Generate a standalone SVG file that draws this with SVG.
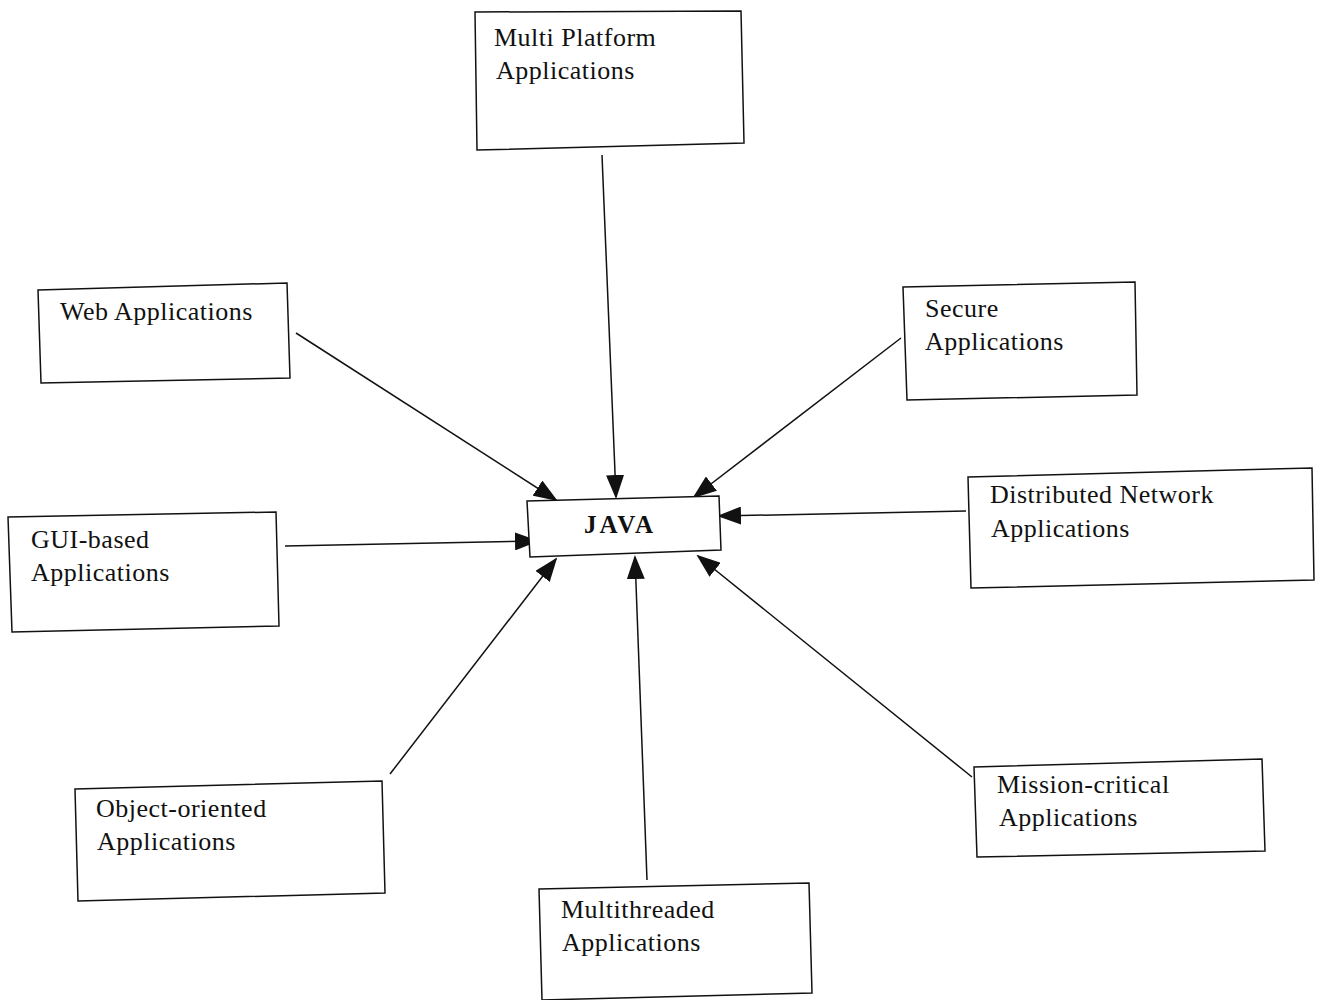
<svg xmlns="http://www.w3.org/2000/svg" width="1322" height="1000" viewBox="0 0 1322 1000">
<defs>
<style>
.box{fill:#fff;stroke:#111;stroke-width:1.5}
.lbl{font-family:"Liberation Serif","Times New Roman",serif;font-size:26px;letter-spacing:0.5px;fill:#111}
.java{font-family:"Liberation Serif","Times New Roman",serif;font-size:25px;font-weight:bold;letter-spacing:3px;fill:#111}
.con line{stroke:#111;stroke-width:1.5;marker-end:url(#ah)}
</style>
<marker id="ah" markerUnits="userSpaceOnUse" markerWidth="24" markerHeight="18" viewBox="0 0 24 18" refX="22" refY="9" orient="auto">
<path d="M0,0 L24,9 L0,18 Z" fill="#111"/>
</marker>
</defs>
<rect width="1322" height="1000" fill="#fff"/>
<g id="connectors" class="con">
<line x1="602" y1="155" x2="616" y2="497"/>
<line x1="296" y1="333" x2="556" y2="500"/>
<line x1="901" y1="338" x2="694" y2="497"/>
<line x1="966" y1="511" x2="719" y2="516"/>
<line x1="285" y1="546" x2="537" y2="541"/>
<line x1="390" y1="774" x2="556" y2="559"/>
<line x1="647" y1="880" x2="635" y2="557"/>
<line x1="972" y1="777" x2="698" y2="556"/>
</g>
<g id="java">
<polygon class="box" points="527,501 719,496 721,550 530,557"/>
<text class="java" x="620" y="533" text-anchor="middle">JAVA</text>
</g>
<g id="multi-platform">
<polygon class="box" points="475,12 741,11 744,143 477,150"/>
<text class="lbl" x="494" y="46">Multi Platform</text>
<text class="lbl" x="496" y="79">Applications</text>
</g>
<g id="web">
<polygon class="box" points="38,290 287,283 290,378 41,383"/>
<text class="lbl" x="60" y="320">Web Applications</text>
</g>
<g id="secure">
<polygon class="box" points="903,287 1135,282 1137,395 907,400"/>
<text class="lbl" x="925" y="317">Secure</text>
<text class="lbl" x="925" y="350">Applications</text>
</g>
<g id="distributed">
<polygon class="box" points="968,477 1312,468 1314,580 971,588"/>
<text class="lbl" x="990" y="503">Distributed Network</text>
<text class="lbl" x="991" y="537">Applications</text>
</g>
<g id="gui">
<polygon class="box" points="8,517 276,512 279,626 12,632"/>
<text class="lbl" x="31" y="548">GUI-based</text>
<text class="lbl" x="31" y="581">Applications</text>
</g>
<g id="object-oriented">
<polygon class="box" points="75,789 382,781 385,893 78,901"/>
<text class="lbl" x="96" y="817">Object-oriented</text>
<text class="lbl" x="97" y="850">Applications</text>
</g>
<g id="multithreaded">
<polygon class="box" points="539,889 809,883 812,993 542,1000"/>
<text class="lbl" x="561" y="918">Multithreaded</text>
<text class="lbl" x="562" y="951">Applications</text>
</g>
<g id="mission-critical">
<polygon class="box" points="974,767 1262,759 1265,851 977,857"/>
<text class="lbl" x="997" y="793">Mission-critical</text>
<text class="lbl" x="999" y="826">Applications</text>
</g>
</svg>
